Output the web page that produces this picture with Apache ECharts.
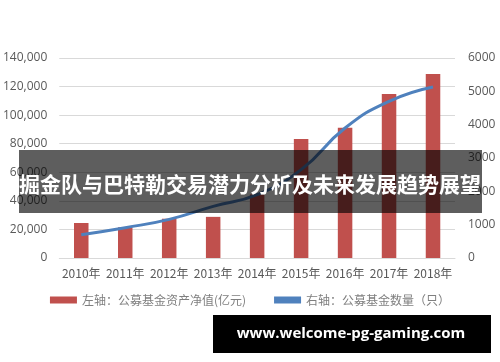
<!DOCTYPE html>
<html><head><meta charset="utf-8">
<script src="https://cdn.jsdelivr.net/npm/echarts@6/dist/echarts.min.js"></script>
<style>html,body{margin:0;padding:0;background:#fff}#c{width:500px;height:362px}</style>
</head><body><div id="c"></div>
<script>
var years = ['2010年','2011年','2012年','2013年','2014年','2015年','2016年','2017年','2018年'];
var netAssets = [24500, 21500, 27500, 28800, 44500, 83300, 91200, 114800, 128800];
var fundCount = [700, 910, 1160, 1550, 1900, 2650, 3900, 4700, 5130];
var barName = '左轴：公募基金资产净值(亿元)';
var lineName = '右轴：公募基金数量（只）';
var title = '掘金队与巴特勒交易潜力分析及未来发展趋势展望';
var footer = 'www.welcome-pg-gaming.com';

var chart = echarts.init(document.getElementById('c'), null, {renderer:'canvas'});
var axisFont = {color:'#595959', fontSize:12, fontFamily:'Open Sans, Liberation Sans, sans-serif'};
chart.setOption({
  animation:false,
  grid:{left:57, right:45, top:58, bottom:104, containLabel:false},
  legend:{
    bottom:51, left:'center', itemGap:28, itemWidth:27, itemHeight:7,
    textStyle:{color:'#7f7f7f', fontSize:12, fontFamily:'Noto Sans CJK SC'},
    data:[{name:barName, icon:'rect'},{name:lineName, icon:'rect', itemStyle:{color:'#4f81bd'}}]
  },
  xAxis:{type:'category', data:years, axisLine:{show:true, lineStyle:{color:'#d9d9d9'}}, axisTick:{show:false},
    axisLabel:{interval:0, margin:9, color:'#595959', fontSize:12, fontFamily:'Noto Sans CJK SC'}},
  yAxis:[
    {type:'value', min:0, max:140000, interval:20000, position:'left',
     axisLine:{show:false}, axisTick:{show:false},
     splitLine:{lineStyle:{color:'#d9d9d9'}},
     axisLabel:Object.assign({margin:12, formatter:function(v){return v.toLocaleString('en-US');}}, axisFont)},
    {type:'value', min:0, max:6000, interval:1000, position:'right',
     axisLine:{show:false}, axisTick:{show:false}, splitLine:{show:false},
     axisLabel:Object.assign({margin:13, formatter:function(v){return String(v);}}, axisFont)}
  ],
  series:[
    {name:barName, type:'bar', data:netAssets, yAxisIndex:0, barWidth:'33%', itemStyle:{color:'#c0504d'}},
    {name:lineName, type:'line', data:fundCount, yAxisIndex:1, smooth:true, showSymbol:false,
     lineStyle:{color:'#4f81bd', width:3}, itemStyle:{color:'#4f81bd'}}
  ],
  graphic:[
    {type:'rect', shape:{x:19, y:150, width:463, height:63}, style:{fill:'rgba(0,0,0,0.63)'}, z:100},
    {type:'text', x:250, y:184, z:101, style:{text:title, fill:'#fff', font:'bold 21px "Noto Sans CJK SC"', textAlign:'center', textVerticalAlign:'middle'}},
    {type:'rect', shape:{x:213, y:315, width:278, height:38}, style:{fill:'#000'}, z:100},
    {type:'text', x:351, y:334, z:101, style:{text:footer, fill:'#fff', font:'bold 15px "Open Sans", sans-serif', textAlign:'center', textVerticalAlign:'middle'}}
  ]
});
</script></body></html>
